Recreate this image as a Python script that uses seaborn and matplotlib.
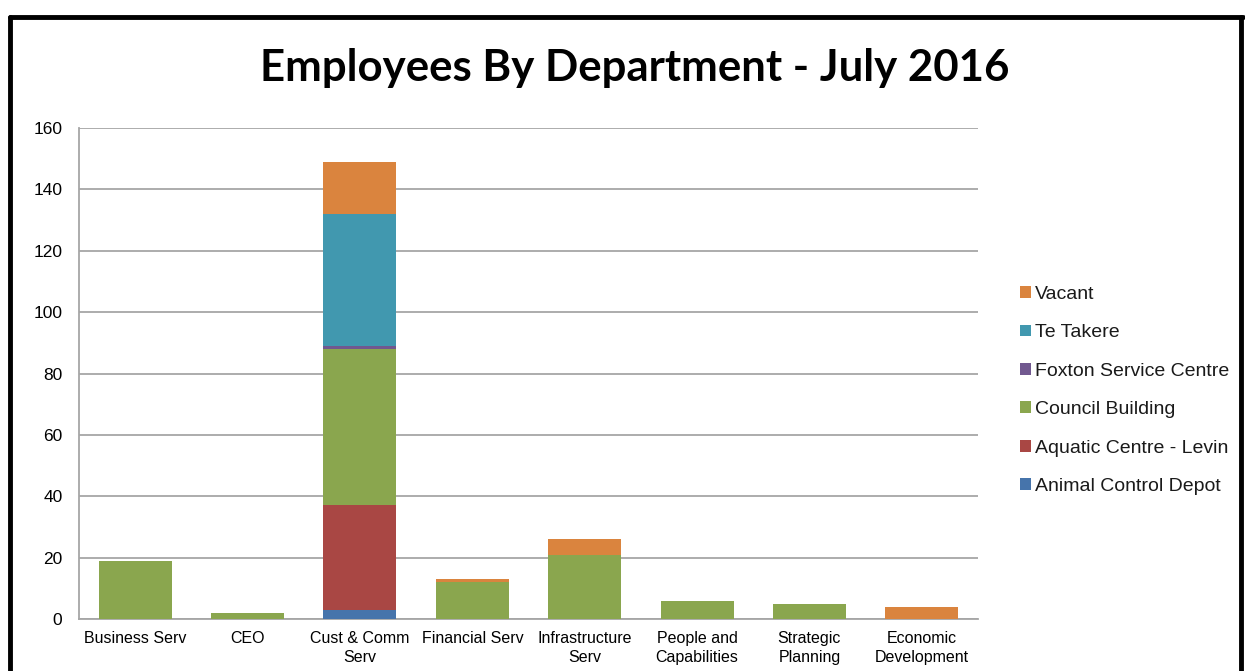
import matplotlib
matplotlib.use("Agg")
import matplotlib.pyplot as plt
from matplotlib.lines import Line2D
from matplotlib.patches import Patch
import numpy as np
import pandas as pd
import seaborn as sns

# Departments and headcount per work location
departments = ["Business Serv", "CEO", "Cust & Comm\nServ", "Financial Serv",
               "Infrastructure\nServ", "People and\nCapabilities", "Strategic\nPlanning",
               "Economic\nDevelopment"]
animal_control_depot = [0, 0, 3, 0, 0, 0, 0, 0]
aquatic_centre_levin = [0, 0, 34, 0, 0, 0, 0, 0]
council_building = [19, 2, 51, 12, 21, 6, 5, 0]
foxton_service_centre = [0, 0, 1, 0, 0, 0, 0, 0]
te_takere = [0, 0, 43, 0, 0, 0, 0, 0]
vacant = [0, 0, 17, 1, 5, 0, 0, 4]

series_names = ["Animal Control Depot", "Aquatic Centre - Levin", "Council Building",
                "Foxton Service Centre", "Te Takere", "Vacant"]
series_values = [animal_control_depot, aquatic_centre_levin, council_building,
                 foxton_service_centre, te_takere, vacant]
series_colors = ["#4674AB", "#A94744", "#8AA64E", "#71588F", "#4198AF", "#DA843E"]

y_ticks = [0, 20, 40, 60, 80, 100, 120, 140, 160]

df = pd.DataFrame({name: vals for name, vals in zip(series_names, series_values)})
df["Department"] = departments
cumulative = df[series_names].cumsum(axis=1)

sns.set_theme(style="white")
plt.rcParams["font.family"] = ["Liberation Sans", "DejaVu Sans"]

fig = plt.figure(figsize=(12.45, 6.71), dpi=100)
ax = fig.add_axes([0.0635, 0.0775, 0.722, 0.7317])

# Stacked bars: draw cumulative totals from the top layer down
for name, color in reversed(list(zip(series_names, series_colors))):
    sns.barplot(x=df["Department"], y=cumulative[name], color=color, width=0.65,
                saturation=1, ax=ax, linewidth=0, zorder=3)

ax.set_ylim(0, 160)
ax.set_xlim(-0.5, len(departments) - 0.5)
ax.set_yticks(y_ticks)
ax.set_yticklabels([str(t) for t in y_ticks])
ax.set_xlabel("")
ax.set_ylabel("")
ax.yaxis.grid(True, color="#A6A6A6", linewidth=1.3, zorder=0)
ax.xaxis.grid(False)
ax.set_axisbelow(True)
for side in ["top", "right"]:
    ax.spines[side].set_visible(False)
for side in ["left", "bottom"]:
    ax.spines[side].set_color("#A6A6A6")
    ax.spines[side].set_linewidth(1.3)
ax.tick_params(axis="y", length=0, pad=12, labelsize=12.5, colors="#000000")
ax.tick_params(axis="x", length=0, pad=9, labelsize=11.5, colors="#000000")
for lbl in ax.get_xticklabels():
    lbl.set_linespacing(1.3)

handles = [Patch(facecolor=c, edgecolor="none") for c in reversed(series_colors)]
leg = fig.legend(handles, list(reversed(series_names)), loc="center left",
                 bbox_to_anchor=(0.813, 0.418), frameon=False,
                 handlelength=0.55, handleheight=0.55, handletextpad=0.2,
                 labelspacing=1.1, borderaxespad=0,
                 prop={"family": ["Liberation Sans", "DejaVu Sans"], "size": 14})
for txt in leg.get_texts():
    txt.set_color("#1A1A1A")

fig.text(0.51, 0.898, "Employees By Department - July 2016", ha="center", va="center",
         fontsize=31.5, fontweight="bold", color="black", family=["Lato", "DejaVu Sans"])

# Outer chart frame
frame_kw = dict(color="black", linewidth=3.5, transform=fig.transFigure, figure=fig)
fig.lines.append(Line2D([0.0078, 0.9985], [1 - 17 / 671, 1 - 17 / 671], **frame_kw))
fig.lines.append(Line2D([0.0078, 0.0078], [0, 1 - 17 / 671], **frame_kw))
fig.lines.append(Line2D([0.9968, 0.9968], [0, 1 - 17 / 671], **frame_kw))

fig.savefig("out.png", dpi=100)
